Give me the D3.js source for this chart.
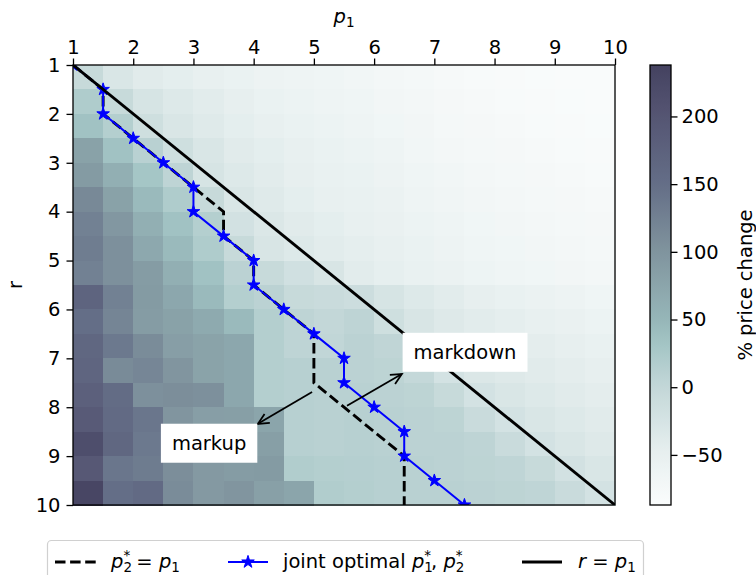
<!DOCTYPE html>
<html>
<head>
<meta charset="utf-8">
<title>price change</title>
<script src="https://cdn.jsdelivr.net/npm/d3@7"></script>
<style>
  body { margin: 0; background: #fff; }
  svg text { font-family: "DejaVu Sans", sans-serif; font-size: 19.5px; fill: #000; }
  .cell { shape-rendering: crispEdges; }
</style>
</head>
<body>
<svg id="chart" width="756" height="575"></svg>
<script>
// grid edges (p1 and r both run 1..10 in 0.5 steps)
var gridEdges = [1, 1.5, 2, 2.5, 3, 3.5, 4, 4.5, 5, 5.5, 6, 6.5, 7, 7.5, 8, 8.5, 9, 9.5, 10];

// % price change, one row per r cell (top to bottom), one value per p1 cell
var priceChange = [
  [-5, -30, -40, -45, -50, -55, -60, -62, -65, -68, -72, -75, -78, -80, -82, -83, -84, -85],
  [20, -5, -25, -35, -42, -48, -55, -58, -62, -65, -70, -73, -76, -78, -80, -82, -83, -84],
  [35, 15, -15, -30, -38, -45, -50, -55, -58, -62, -67, -70, -74, -76, -78, -80, -82, -83],
  [80, 35, 10, -15, -30, -40, -45, -50, -55, -58, -63, -68, -72, -74, -76, -78, -80, -82],
  [90, 60, 30, 5, -25, -35, -42, -48, -52, -55, -60, -65, -69, -72, -74, -76, -78, -80],
  [115, 80, 45, 20, -5, -30, -38, -45, -50, -52, -57, -62, -66, -70, -72, -74, -76, -78],
  [125, 95, 60, 35, 15, -20, -32, -40, -45, -50, -54, -59, -63, -67, -70, -72, -74, -76],
  [130, 105, 70, 45, 20, -5, -28, -35, -42, -46, -50, -55, -60, -64, -67, -70, -72, -74],
  [125, 105, 88, 60, 35, 8, -5, -18, -28, -42, -47, -52, -57, -61, -64, -67, -70, -72],
  [170, 125, 90, 72, 45, 15, 8, -5, -8, -12, -25, -35, -42, -48, -52, -56, -60, -64],
  [150, 120, 88, 80, 68, 45, 15, 5, 0, 5, -15, -28, -36, -42, -46, -50, -54, -58],
  [165, 135, 110, 85, 78, 72, 15, 5, 2, 8, 3, -18, -30, -36, -40, -44, -48, -52],
  [168, 112, 118, 98, 78, 72, 15, 12, 10, 8, 6, -2, -22, -32, -36, -40, -44, -48],
  [178, 155, 105, 108, 105, 72, 15, 12, 10, 10, 8, 6, -5, -22, -30, -35, -40, -44],
  [190, 158, 140, 98, 85, 84, 75, 12, 10, 12, 10, 8, 6, -8, -22, -30, -35, -40],
  [215, 165, 135, 100, 98, 100, 84, 12, 10, 12, 10, 8, 8, 5, -8, -22, -30, -36],
  [195, 140, 132, 108, 92, 88, 90, 18, 15, 14, 12, 10, 8, 6, 4, -5, -20, -30],
  [230, 150, 158, 110, 92, 98, 82, 75, 18, 15, 12, 10, 10, 8, 6, 4, -8, -22]
];

// optimal paths, one p1 per r
var pathR      = [1, 1.5, 2, 2.5, 3, 3.5, 4, 4.5, 5, 5.5, 6, 6.5, 7, 7.5, 8, 8.5, 9, 9.5, 10];
var p2EqP1     = [1, 1.5, 1.5, 2, 2.5, 3, 3.5, 3.5, 4, 4, 4.5, 5, 5, 5, 5.5, 6, 6.5, 6.5, 6.5];
var jointP1    = [1, 1.5, 1.5, 2, 2.5, 3, 3, 3.5, 4, 4, 4.5, 5, 5.5, 5.5, 6, 6.5, 6.5, 7, 7.5];
var diagonal   = [1, 10];

var xTicks = [1, 2, 3, 4, 5, 6, 7, 8, 9, 10];
var yTicks = [1, 2, 3, 4, 5, 6, 7, 8, 9, 10];
var cbTicks = [-50, 0, 50, 100, 150, 200];
var cbDomain = [-87, 238];

// colour map stops
var cbStops   = [-87, -50, 0, 30, 50, 100, 150, 200, 238];
var cbColours = ['#fafcfc', '#e8f0f0', '#c3d7d8', '#a5c6c6', '#96b6b8', '#80949e', '#646e87', '#555573', '#444260'];

// annotations
var annotLabels = ['markdown', 'markup'];
var annotTextP1 = [7.51, 3.26];
var annotTextR  = [6.87, 8.73];
var annotTailP1 = [5.55, 4.97];
var annotTailR  = [7.97, 7.69];
var annotHeadP1 = [6.46, 4.07];
var annotHeadR  = [7.32, 8.34];

var margin = { top: 65, left: 73 };
var width = 542, height = 440;

var svg = d3.select('#chart');
var g = svg.append('g').attr('transform', 'translate(' + margin.left + ',' + margin.top + ')');

var x = d3.scaleLinear().domain([1, 10]).range([0, width]);
var y = d3.scaleLinear().domain([1, 10]).range([0, height]);
var colour = d3.scaleLinear().domain(cbStops).range(cbColours).interpolate(d3.interpolateRgb).clamp(true);

svg.append('defs').append('clipPath').attr('id', 'plotclip')
  .append('rect').attr('width', width).attr('height', height);

// heatmap cells
var cells = [];
priceChange.forEach(function (row, i) {
  row.forEach(function (v, j) {
    cells.push({ i: i, j: j, v: v });
  });
});

g.append('g').selectAll('.cell')
  .data(cells).enter().append('rect')
    .attr('class', 'cell')
    .attr('x', function (d) { return x(gridEdges[d.j]); })
    .attr('y', function (d) { return y(gridEdges[d.i]); })
    .attr('width', function (d) { return x(gridEdges[d.j + 1]) - x(gridEdges[d.j]) + 0.5; })
    .attr('height', function (d) { return y(gridEdges[d.i + 1]) - y(gridEdges[d.i]) + 0.5; })
    .attr('fill', function (d) { return colour(d.v); });

var plot = g.append('g').attr('clip-path', 'url(#plotclip)');

var line = d3.line()
  .x(function (d) { return x(d[0]); })
  .y(function (d) { return y(d[1]); });

plot.append('path')
  .attr('d', line(d3.zip(p2EqP1, pathR)))
  .attr('fill', 'none').attr('stroke', '#000')
  .attr('stroke-width', 2.9).attr('stroke-dasharray', '10.5,4.6');

plot.append('path')
  .attr('d', line(d3.zip(jointP1, pathR)))
  .attr('fill', 'none').attr('stroke', '#0000ff').attr('stroke-width', 2);

function starPath(R) {
  var pts = [];
  for (var k = 0; k < 10; k++) {
    var rad = k % 2 === 0 ? R : R * 0.382;
    var a = -Math.PI / 2 + k * Math.PI / 5;
    pts.push([rad * Math.cos(a), rad * Math.sin(a)]);
  }
  return 'M' + pts.join('L') + 'Z';
}

plot.append('g').selectAll('.star')
  .data(d3.zip(jointP1, pathR)).enter().append('path')
    .attr('class', 'star')
    .attr('transform', function (d) { return 'translate(' + x(d[0]) + ',' + y(d[1]) + ')'; })
    .attr('d', starPath(6.6))
    .attr('fill', '#0000ff').attr('stroke', '#0000ff').attr('stroke-width', 1)
    .attr('stroke-linejoin', 'miter');

plot.append('path')
  .attr('d', line(d3.zip(diagonal, diagonal)))
  .attr('fill', 'none').attr('stroke', '#000').attr('stroke-width', 2.9);

// annotations
annotLabels.forEach(function (label, k) {
  var a = g.append('g');
  var tx = x(annotTailP1[k]), ty = y(annotTailR[k]);
  var hx = x(annotHeadP1[k]), hy = y(annotHeadR[k]);
  a.append('line')
    .attr('x1', tx).attr('y1', ty).attr('x2', hx).attr('y2', hy)
    .attr('stroke', '#000').attr('stroke-width', 1.8);
  var ang = Math.atan2(hy - ty, hx - tx);
  var len = 12, spread = 0.45;
  var p1 = [hx - len * Math.cos(ang - spread), hy - len * Math.sin(ang - spread)];
  var p2 = [hx - len * Math.cos(ang + spread), hy - len * Math.sin(ang + spread)];
  a.append('path')
    .attr('d', 'M' + p1 + 'L' + [hx, hy] + 'L' + p2)
    .attr('fill', 'none').attr('stroke', '#000').attr('stroke-width', 1.8);

  var box = a.append('rect').attr('fill', '#fff');
  var txt = a.append('text')
    .attr('x', x(annotTextP1[k])).attr('y', y(annotTextR[k]))
    .attr('dy', '0.35em').attr('text-anchor', 'middle')
    .text(label);
  var bb = txt.node().getBBox();
  box.attr('x', bb.x - 11).attr('y', bb.y - 8)
    .attr('width', bb.width + 22).attr('height', bb.height + 16);
});

// axes frame
g.append('rect').attr('width', width).attr('height', height)
  .attr('fill', 'none').attr('stroke', '#000').attr('stroke-width', 1.3);

var xAxis = g.append('g').call(d3.axisTop(x).tickValues(xTicks).tickSize(6.5).tickPadding(5).tickFormat(d3.format('d')));
var yAxis = g.append('g').call(d3.axisLeft(y).tickValues(yTicks).tickSize(6.5).tickPadding(6).tickFormat(d3.format('d')));
[xAxis, yAxis].forEach(function (ax) {
  ax.select('.domain').remove();
  ax.selectAll('.tick line').attr('stroke', '#000').attr('stroke-width', 1.3);
  ax.attr('font-size', null).attr('font-family', null);
});

// math-style labels built from tspans
function mathText(sel, parts) {
  parts.forEach(function (p) {
    var t = sel.append('tspan').text(p.t);
    if (p.italic) t.attr('font-style', 'italic');
    if (p.size) t.attr('font-size', p.size);
    if (p.dx) t.attr('dx', p.dx);
    if (p.dy) t.attr('dy', p.dy);
  });
}

var pLabel = svg.append('text').attr('x', margin.left + width / 2).attr('y', 23).attr('text-anchor', 'middle');
mathText(pLabel, [{ t: 'p', italic: true }, { t: '1', size: 13.5, dy: 4 }]);

svg.append('text')
  .attr('transform', 'translate(15,' + (margin.top + height / 2) + ') rotate(-90)')
  .attr('text-anchor', 'middle').attr('dy', '0.35em')
  .text('r');

// colour bar
var cbX = 650, cbW = 21;
var cy = d3.scaleLinear().domain(cbDomain).range([margin.top + height, margin.top]);
var grad = svg.select('defs').append('linearGradient')
  .attr('id', 'cbgrad').attr('x1', 0).attr('y1', 1).attr('x2', 0).attr('y2', 0);
d3.range(0, 1.0001, 0.02).forEach(function (f) {
  var v = cbDomain[0] + f * (cbDomain[1] - cbDomain[0]);
  grad.append('stop').attr('offset', f).attr('stop-color', colour(v));
});
svg.append('rect').attr('x', cbX).attr('y', margin.top).attr('width', cbW).attr('height', height)
  .attr('fill', 'url(#cbgrad)').attr('stroke', '#000').attr('stroke-width', 1.3);

var cbAxis = svg.append('g').attr('transform', 'translate(' + (cbX + cbW) + ',0)')
  .call(d3.axisRight(cy).tickValues(cbTicks).tickSize(6.5).tickPadding(4)
    .tickFormat(function (d) { return d < 0 ? '\u2212' + Math.abs(d) : d; }));
cbAxis.select('.domain').remove();
cbAxis.selectAll('.tick line').attr('stroke', '#000').attr('stroke-width', 1.3);
cbAxis.attr('font-size', null).attr('font-family', null);

svg.append('text')
  .attr('transform', 'translate(745,' + (margin.top + height / 2) + ') rotate(-90)')
  .attr('text-anchor', 'middle').attr('dy', '0.35em')
  .text('% price change');

// legend
var leg = svg.append('g');
leg.append('rect').attr('x', 47.5).attr('y', 540.5).attr('width', 596).attr('height', 60).attr('rx', 4)
  .attr('fill', '#fff').attr('stroke', '#d0d0d0').attr('stroke-width', 1.2);

var legY = 562;
leg.append('line').attr('x1', 55).attr('x2', 96).attr('y1', legY).attr('y2', legY)
  .attr('stroke', '#000').attr('stroke-width', 2.9).attr('stroke-dasharray', '10.5,4.6');
leg.append('line').attr('x1', 228).attr('x2', 268).attr('y1', legY).attr('y2', legY)
  .attr('stroke', '#0000ff').attr('stroke-width', 2);
leg.append('path').attr('transform', 'translate(248,' + legY + ')').attr('d', starPath(6.6))
  .attr('fill', '#0000ff').attr('stroke', '#0000ff');
leg.append('line').attr('x1', 522).attr('x2', 562).attr('y1', legY).attr('y2', legY)
  .attr('stroke', '#000').attr('stroke-width', 2.9);

var legBase = legY + 6;
var t1 = leg.append('text').attr('x', 111).attr('y', legBase);
mathText(t1, [{ t: 'p', italic: true }, { t: '2', size: 13.5, dy: 4 }, { t: '*', size: 13.5, dx: -8.6, dy: -12 },
  { t: ' = ', dy: 8 }, { t: 'p', italic: true }, { t: '1', size: 13.5, dy: 4 }]);

var t2 = leg.append('text').attr('x', 283).attr('y', legBase);
mathText(t2, [{ t: 'joint optimal ' }, { t: 'p', italic: true }, { t: '1', size: 13.5, dy: 4 },
  { t: '*', size: 13.5, dx: -8.6, dy: -12 }, { t: ', ', dy: 8 }, { t: 'p', italic: true },
  { t: '2', size: 13.5, dy: 4 }, { t: '*', size: 13.5, dx: -8.6, dy: -12 }]);

var t3 = leg.append('text').attr('x', 578).attr('y', legBase);
mathText(t3, [{ t: 'r', italic: true }, { t: ' = ' }, { t: 'p', italic: true }, { t: '1', size: 13.5, dy: 4 }]);
</script>
</body>
</html>
